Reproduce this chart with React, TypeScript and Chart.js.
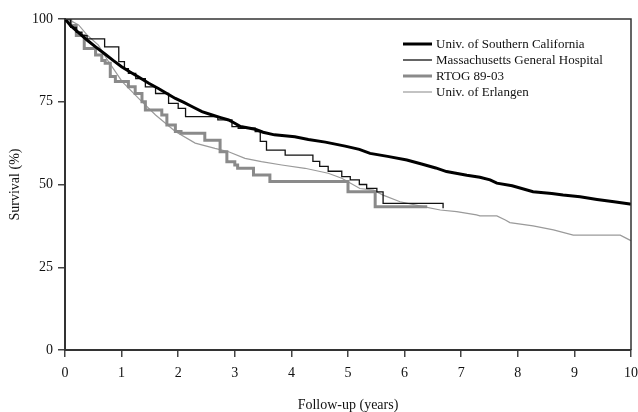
import React, { useEffect, useRef } from "react";
import { Chart, registerables } from "chart.js";

Chart.register(...registerables);

// ---- data (time in years, survival in %) ----
const seriesNames = [
  "Univ. of Southern California",
  "Massachusetts General Hospital",
  "RTOG 89-03",
  "Univ. of Erlangen",
];

const uscT = [0, 0.1, 0.2, 0.3, 0.4, 0.54, 0.7, 0.85, 1.0, 1.15, 1.3, 1.48, 1.65, 1.8, 1.95, 2.1, 2.25, 2.42, 2.6, 2.75, 2.89, 3.0, 3.1, 3.36, 3.5, 3.7, 4.06, 4.3, 4.6, 4.95, 5.2, 5.39, 5.7, 6.04, 6.3, 6.55, 6.74, 7.1, 7.33, 7.51, 7.63, 7.9, 8.27, 8.6, 8.8, 9.1, 9.4, 9.7, 9.98, 10];
const uscS = [100, 98, 96.5, 95, 93.5, 91.6, 89.5, 87.5, 85.6, 84, 82.5, 80.6, 79, 77.5, 76, 74.8, 73.5, 72, 71, 70.2, 69.5, 68.5, 67.5, 66.7, 65.8, 65, 64.4, 63.6, 62.8, 61.6, 60.6, 59.4, 58.5, 57.4, 56.2, 55, 53.9, 52.8, 52.2, 51.4, 50.4, 49.6, 47.8, 47.3, 46.8, 46.3, 45.5, 44.8, 44.1, 44];

const mghT = [0, 0.1, 0.2, 0.3, 0.39, 0.7, 0.95, 1.05, 1.12, 1.25, 1.42, 1.6, 1.83, 2.0, 2.13, 2.7, 2.95, 3.06, 3.36, 3.45, 3.56, 3.89, 4.38, 4.5, 4.65, 4.89, 5.04, 5.2, 5.33, 5.51, 5.62, 6.57, 6.68];
const mghS = [100, 97.5, 96, 95, 94, 91.6, 87.1, 85, 83.6, 82, 79.5, 77.5, 74.5, 73, 70.5, 69.5, 67.5, 67, 66, 63, 60.4, 58.9, 57, 55.5, 54, 52.4, 51.4, 50, 48.8, 47.8, 44.3, 44.3, 42.8];

const rtogT = [0, 0.1, 0.2, 0.34, 0.54, 0.65, 0.71, 0.8, 0.89, 1.12, 1.24, 1.36, 1.42, 1.71, 1.8, 1.95, 2.05, 2.47, 2.74, 2.86, 3.0, 3.05, 3.33, 3.62, 5.0, 5.48, 6.4];
const rtogS = [100, 98, 95, 91.1, 89.1, 87.5, 86.6, 82.6, 81.1, 79.5, 77.5, 75, 72.5, 71, 68, 66, 65.5, 63.4, 59.9, 56.9, 55.9, 54.9, 52.9, 50.9, 47.8, 43.3, 43.3];

const erlT = [0, 0.1, 0.24, 0.4, 0.59, 0.77, 1.01, 1.3, 1.6, 1.95, 2.3, 2.65, 2.89, 3.18, 3.47, 3.83, 4.24, 4.65, 4.89, 5.21, 5.45, 5.62, 5.92, 6.33, 6.63, 6.92, 7.27, 7.33, 7.63, 7.78, 7.86, 8.27, 8.63, 8.98, 9.81, 9.98, 10];
const erlS = [100, 99.5, 98.2, 95, 92.1, 87.1, 81.1, 76, 71, 66, 62.5, 60.9, 59.9, 57.9, 56.9, 55.9, 54.9, 53.4, 51.9, 48.8, 48.3, 46.8, 44.8, 43.3, 42.3, 41.8, 40.8, 40.5, 40.5, 39.3, 38.5, 37.5, 36.3, 34.7, 34.7, 33.2, 33];

const xTickStep = 1;
const yTickStep = 25;

const colors = ["#000000", "#111111", "#8a8a8a", "#9a9a9a"];
const widths = [3, 1.3, 3, 1.2];
const steppedMode: (false | "before")[] = [false, "before", "before", false];

const serif = "'Liberation Serif', 'DejaVu Serif', serif";

const pts = (t: number[], s: number[]) => t.map((x, i) => ({ x, y: s[i] }));

const framePlugin = {
  id: "frameAndLegend",
  afterDatasetsDraw(chart: any) {
    const { ctx, chartArea } = chart;
    ctx.save();
    ctx.strokeStyle = "#333";
    ctx.lineWidth = 1.5;
    ctx.beginPath();
    ctx.moveTo(chartArea.left, chartArea.top);
    ctx.lineTo(chartArea.right, chartArea.top);
    ctx.lineTo(chartArea.right, chartArea.bottom);
    ctx.stroke();

    // legend
    const x0 = 403;
    const x1 = 432;
    const rowY = [44, 60, 76, 92];
    ctx.font = `13px ${serif}`;
    ctx.textBaseline = "middle";
    ctx.textAlign = "left";
    seriesNames.forEach((name, i) => {
      ctx.strokeStyle = colors[i];
      ctx.lineWidth = widths[i];
      ctx.beginPath();
      ctx.moveTo(x0, rowY[i]);
      ctx.lineTo(x1, rowY[i]);
      ctx.stroke();
      ctx.fillStyle = "#111";
      ctx.fillText(name, 436, rowY[i] + 1);
    });
    ctx.restore();
  },
};

export default function App() {
  const ref = useRef<HTMLCanvasElement | null>(null);

  useEffect(() => {
    if (!ref.current) return;
    const data = [pts(uscT, uscS), pts(mghT, mghS), pts(rtogT, rtogS), pts(erlT, erlS)];
    const chart = new Chart(ref.current, {
      type: "line",
      data: {
        datasets: seriesNames.map((name, i) => ({
          label: name,
          data: data[i],
          borderColor: colors[i],
          borderWidth: widths[i],
          stepped: steppedMode[i],
          pointRadius: 0,
          fill: false,
          tension: 0,
        })),
      },
      options: {
        responsive: false,
        animation: false,
        layout: { padding: { top: 19, right: 7, left: 0, bottom: 0 } },
        plugins: {
          legend: { display: false },
          tooltip: { enabled: false },
        },
        scales: {
          x: {
            type: "linear",
            min: 0,
            max: 10,
            afterFit: (s: any) => {
              s.height = 62;
              s.paddingLeft = 0;
              s.paddingRight = 0;
            },
            ticks: {
              stepSize: xTickStep,
              color: "#111",
              padding: 8,
              maxRotation: 0,
              font: { family: serif, size: 14 },
            },
            grid: {
              display: true,
              drawOnChartArea: false,
              drawTicks: true,
              tickLength: 7,
              color: "#444",
              lineWidth: 1.5,
            },
            border: { display: true, color: "#333", width: 2 },
            title: {
              display: true,
              text: "Follow-up (years)",
              color: "#111",
              font: { family: serif, size: 14, lineHeight: 1 },
              padding: { top: 0, bottom: 0 },
            },
          },
          y: {
            min: 0,
            max: 100,
            afterFit: (s: any) => {
              s.width = 65;
              s.paddingTop = 0;
              s.paddingBottom = 0;
            },
            ticks: {
              stepSize: yTickStep,
              color: "#111",
              padding: 5,
              font: { family: serif, size: 14 },
            },
            grid: {
              display: true,
              drawOnChartArea: false,
              drawTicks: true,
              tickLength: 7,
              color: "#444",
              lineWidth: 1.5,
            },
            border: { display: true, color: "#333", width: 2 },
            title: {
              display: true,
              text: "Survival (%)",
              color: "#111",
              font: { family: serif, size: 14 },
              padding: { top: 7, bottom: 0 },
            },
          },
        },
      },
      plugins: [framePlugin],
    });
    return () => chart.destroy();
  }, []);

  return (
    <div style={{ position: "fixed", left: 0, top: 0, width: 638, height: 412, background: "#fff" }}>
      <canvas ref={ref} width={638} height={412} style={{ width: 638, height: 412, display: "block" }} />
    </div>
  );
}
